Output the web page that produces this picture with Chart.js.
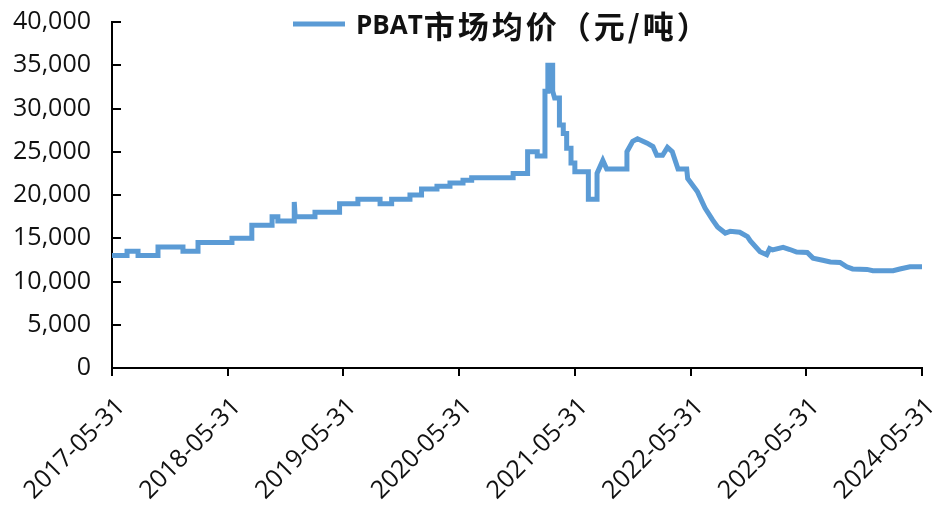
<!DOCTYPE html>
<html>
<head>
<meta charset="utf-8">
<script src="https://cdn.jsdelivr.net/npm/chart.js@4.4.1/dist/chart.umd.min.js"></script>
<style>
  html, body { margin: 0; padding: 0; background: #fff; }
  #wrap { width: 952px; height: 506px; position: relative; }
</style>
</head>
<body>
<div id="wrap"><canvas id="c"></canvas></div>
<script>
// Time axis: months elapsed since 2017-05-31
const xTickLabels = ['2017-05-31','2018-05-31','2019-05-31','2020-05-31','2021-05-31','2022-05-31','2023-05-31','2024-05-31'];
const seriesName = 'PBAT市场均价（元/吨）';
const months = [
  0, 1.56, 1.56, 2.7, 2.7, 4.77, 4.77, 7.36, 7.36, 8.92, 8.92, 12.44, 12.44, 14.5, 14.5,
  16.6, 16.6, 17.2, 17.2, 18.9, 18.9, 19.0, 21.05, 21.05, 23.6, 23.6, 25.5, 25.5, 27.8, 27.8,
  29.0, 29.0, 30.9, 30.9, 32.1, 32.1, 33.7, 33.7, 35.05, 35.05, 36.4, 36.4, 37.3, 37.3,
  41.6, 41.6, 43.1, 43.1, 44.1, 44.1, 44.9, 44.9, 45.2, 45.2, 45.7, 45.7,
  45.9, 46.4, 46.4, 46.8, 46.8, 47.15, 47.15, 47.6, 47.6, 48.0, 48.0, 49.4, 49.4,
  50.3, 50.3, 50.9, 51.3, 53.4, 53.4, 54.0, 54.5, 55.5, 56.1, 56.5, 57.1, 57.6, 58.1, 58.4,
  58.7, 59.6, 59.7, 60.7, 61.2, 61.5, 62.3, 62.8, 63.6, 64.1, 65.1, 65.9, 66.2, 67.2, 67.9,
  68.2, 68.5, 69.6, 70.3, 71.0, 72.1, 72.7, 73.7, 74.5, 75.5, 76.2, 76.8, 78.3, 78.9, 81.0,
  81.7, 82.75, 84
];
const prices = [
  13000, 13000, 13500, 13500, 13000, 13000, 14000, 14000, 13500, 13500, 14500, 14500, 15000, 15000, 16500,
  16500, 17500, 17500, 17000, 17000, 19200, 17500, 17500, 18000, 18000, 19000, 19000, 19500, 19500, 19000,
  19000, 19500, 19500, 20000, 20000, 20700, 20700, 21000, 21000, 21400, 21400, 21700, 21700, 22000,
  22000, 22500, 22500, 25000, 25000, 24500, 24500, 32000, 32000, 35000, 35000, 32000,
  31200, 31200, 28100, 28100, 27100, 27100, 25400, 25400, 23700, 23700, 22700, 22700, 19500,
  19500, 22500, 24000, 23000, 23000, 25000, 26200, 26500, 26000, 25600, 24600, 24600, 25500, 25000, 24000,
  23000, 23000, 21900, 20400, 19200, 18500, 17100, 16300, 15600, 15800, 15700, 15200, 14700, 13450, 13100,
  13800, 13650, 13950, 13700, 13400, 13350, 12700, 12450, 12250, 12200, 11700, 11450, 11400, 11250, 11250,
  11450, 11700, 11700
];
const yTickValues = [0, 5000, 10000, 15000, 20000, 25000, 30000, 35000, 40000];

const lineColor = '#5B9BD5';
const textColor = '#111111';
const tickFont = { family: '"Open Sans", "Liberation Sans", sans-serif', size: 25 };

const points = months.map((m, i) => ({ x: m, y: prices[i] }));

// inward y tick marks
const yInnerTicks = {
  id: 'yInnerTicks',
  afterDraw(chart) {
    const { ctx, chartArea } = chart;
    const ys = chart.scales.y;
    ctx.save();
    ctx.strokeStyle = '#000';
    ctx.lineWidth = 2;
    ys.ticks.forEach((t, i) => {
      const py = Math.round(ys.getPixelForTick(i));
      ctx.beginPath();
      ctx.moveTo(chartArea.left, py);
      ctx.lineTo(chartArea.left + 9, py);
      ctx.stroke();
    });
    ctx.restore();
  }
};

// legend drawn over the top of the plot, as in the reference
const overlayLegend = {
  id: 'overlayLegend',
  afterDraw(chart) {
    const { ctx } = chart;
    const ds = chart.data.datasets[0];
    const cy = 26;
    ctx.save();
    ctx.strokeStyle = ds.borderColor;
    ctx.lineWidth = 5;
    ctx.beginPath();
    ctx.moveTo(293, cy - 2);
    ctx.lineTo(345, cy - 2);
    ctx.stroke();
    ctx.fillStyle = textColor;
    ctx.textBaseline = 'middle';
    ctx.textAlign = 'left';
    const label = ds.label;
    const latin = label.match(/^[A-Za-z]+/)[0];
    const rest = label.slice(latin.length);
    ctx.font = 'bold 26px "Open Sans", "Liberation Sans", sans-serif';
    ctx.fillText(latin, 356, cy + 1);
    const w = ctx.measureText(latin).width;
    ctx.font = 'bold 31px "Noto Sans CJK SC", sans-serif';
    try { ctx.letterSpacing = '3px'; } catch (e) {}
    ctx.fillText(rest, 356 + w + 1, cy);
    ctx.restore();
  }
};

new Chart(document.getElementById('c'), {
  type: 'line',
  data: {
    datasets: [{
      label: seriesName,
      data: points,
      borderColor: lineColor,
      backgroundColor: lineColor,
      borderWidth: 5,
      pointRadius: 0,
      tension: 0,
      fill: false
    }]
  },
  options: {
    responsive: true,
    maintainAspectRatio: false,
    animation: false,
    layout: { padding: { top: 22, right: 30, left: 0, bottom: 0 } },
    plugins: {
      legend: { display: false },
      tooltip: { enabled: false }
    },
    scales: {
      x: {
        type: 'linear',
        min: 0,
        max: 84,
        afterFit(s) { s.height = 138; s.paddingLeft = 0; s.paddingRight = 0; },
        afterBuildTicks(s) { s.ticks = xTickLabels.map((_, i) => ({ value: i * 12 })); },
        ticks: {
          autoSkip: false,
          minRotation: 45,
          maxRotation: 45,
          padding: 16,
          labelOffset: 9,
          color: textColor,
          font: tickFont,
          callback: (v) => xTickLabels[Math.round(v / 12)]
        },
        grid: { display: true, drawOnChartArea: false, drawTicks: true, tickLength: 8, color: '#000', lineWidth: 2 },
        border: { display: true, color: '#000', width: 2 }
      },
      y: {
        min: 0,
        max: 40000,
        afterFit(s) { s.width = 112; s.paddingTop = 0; s.paddingBottom = 0; },
        afterBuildTicks(s) { s.ticks = yTickValues.map(v => ({ value: v })); },
        ticks: {
          padding: 21,
          color: textColor,
          font: tickFont,
          callback: (v) => v.toLocaleString('en-US')
        },
        grid: { display: true, drawOnChartArea: false, drawTicks: false },
        border: { display: true, color: '#000', width: 2 }
      }
    }
  },
  plugins: [yInnerTicks, overlayLegend]
});
</script>
</body>
</html>
